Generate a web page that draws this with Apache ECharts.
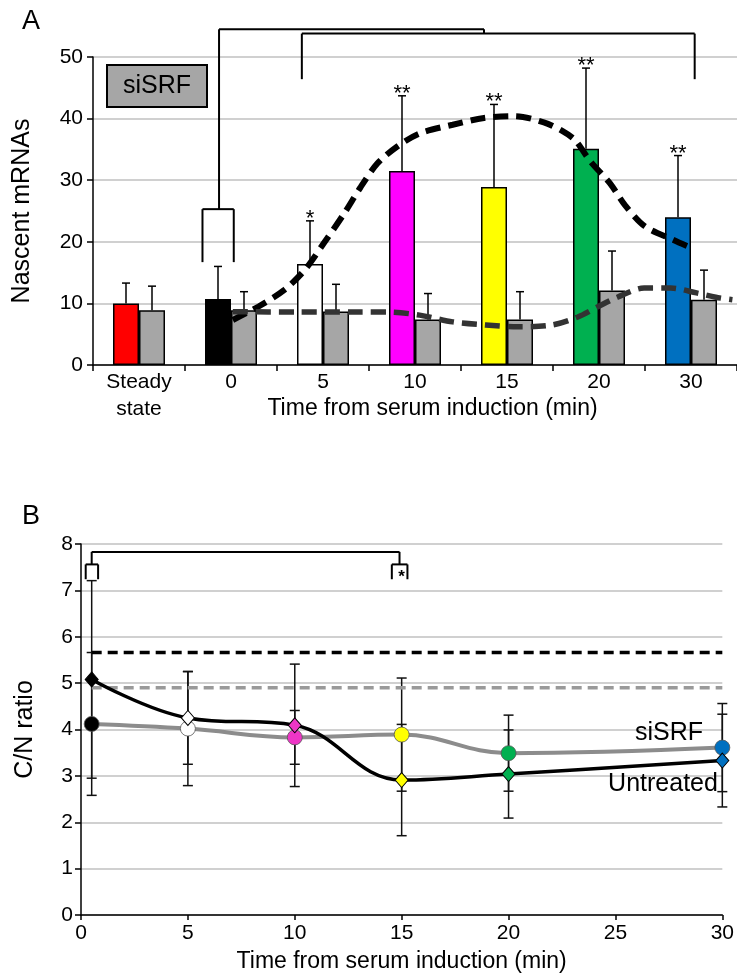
<!DOCTYPE html>
<html>
<head>
<meta charset="utf-8">
<script src="https://cdn.jsdelivr.net/npm/echarts@6/dist/echarts.min.js"></script>
<style>
  html, body { margin: 0; padding: 0; background: #fff; }
  #chart { width: 737px; height: 979px; }
</style>
</head>
<body>
<div id="chart"></div>
<script>
  const FONT = '"Liberation Sans", Arial, Helvetica, sans-serif';

  // ---- panel A: nascent mRNAs ----
  const timeCategories = ['Steady\nstate', '0', '5', '10', '15', '20', '30'];
  const untreatedMRNA = [10.0, 10.7, 16.4, 31.5, 28.9, 35.1, 24.0];
  const untreatedMRNAErrTop = [13.3, 16.0, 23.4, 43.7, 42.3, 48.2, 34.0];
  const siSRFMRNA = [8.9, 8.9, 8.7, 7.4, 7.4, 12.1, 10.6];
  const siSRFMRNAErrTop = [12.8, 11.9, 13.1, 11.6, 11.9, 18.5, 15.4];
  const timeColors = ['#ff0000', '#000000', '#ffffff', '#ff00ff', '#ffff00', '#00b050', '#0070c0'];
  const starsA = ['', '', '*', '**', '**', '**', '**'];

  // trend curves, x on a 0..7 scale (category i spans i..i+1)
  const untreatedTrendX = [1.52, 1.80, 2.08, 2.30, 2.51, 2.73, 2.91, 3.09, 3.30, 3.55, 3.91, 4.25, 4.58, 4.90, 5.10, 5.24, 5.41, 5.62, 5.78, 6.00, 6.31, 6.49];
  const untreatedTrendY = [7.3, 9.5, 12.2, 15.4, 19.8, 24.6, 28.9, 32.7, 35.4, 37.6, 39.0, 40.1, 40.4, 39.4, 38.0, 36.5, 33.0, 29.5, 26.0, 22.5, 20.3, 19.1];
  const siSRFTrendX = [1.52, 2.2, 2.9, 3.2, 3.55, 3.91, 4.27, 4.62, 4.99, 5.27, 5.48, 5.70, 5.99, 6.28, 6.56, 6.77, 6.95];
  const siSRFTrendY = [8.65, 8.6, 8.6, 8.6, 8.1, 7.0, 6.5, 6.2, 6.5, 7.8, 9.4, 11.0, 12.5, 12.5, 11.7, 11.0, 10.6];

  // significance brackets [x1, y1, x2, y2]
  const bracketA = [
    [1.19, 16.7, 1.19, 25.3], [1.19, 25.3, 1.53, 25.3], [1.53, 25.3, 1.53, 16.7],
    [1.37, 25.3, 1.37, 54.5], [1.37, 54.5, 4.25, 54.5], [4.25, 54.5, 4.25, 53.8],
    [2.27, 46.4, 2.27, 53.8], [2.27, 53.8, 6.54, 53.8], [6.54, 53.8, 6.54, 46.4]
  ];

  // ---- panel B: C/N ratio ----
  const timesB = [0.5, 5, 10, 15, 20, 30];
  const untreatedRatio = [5.08, 4.25, 4.09, 2.91, 3.04, 3.33];
  const untreatedRatioErr = [2.13, 1.0, 1.32, 1.2, 0.95, 1.0];
  const siSRFRatio = [4.12, 4.02, 3.83, 3.89, 3.49, 3.61];
  const siSRFRatioErr = [1.54, 1.23, 0.58, 1.22, 0.82, 0.95];
  const pointColors = ['#000000', '#ffffff', '#ee36c6', '#ffff00', '#00b050', '#0070c0'];
  const untreatedSteady = 5.66;
  const siSRFSteady = 4.9;
  const bracketB = [
    [0.22, 7.24, 0.22, 7.56], [0.22, 7.56, 0.8, 7.56], [0.8, 7.56, 0.8, 7.24],
    [0.5, 7.56, 0.5, 7.83], [0.5, 7.83, 14.9, 7.83], [14.9, 7.83, 14.9, 7.56],
    [14.54, 7.24, 14.54, 7.56], [14.54, 7.56, 15.27, 7.56], [15.27, 7.56, 15.27, 7.24]
  ];

  const BAR_W = 26;
  const chart = echarts.init(document.getElementById('chart'));

  // upper error bars for the grouped bars (side -1 = left bar, +1 = right bar)
  function barErrors(values, tops, side, stars) {
    return {
      type: 'custom',
      xAxisIndex: 0,
      yAxisIndex: 0,
      z: 4,
      silent: true,
      data: values.map((v, i) => [i, v, tops[i]]),
      renderItem: function (params, api) {
        const base = api.coord([api.value(0), api.value(1)]);
        const top = api.coord([api.value(0), api.value(2)]);
        const x = base[0] + side * BAR_W / 2;
        const children = [
          {type: 'line', shape: {x1: x, y1: base[1], x2: x, y2: top[1]}, style: {stroke: '#000', lineWidth: 1.5}},
          {type: 'line', shape: {x1: x - 4, y1: top[1], x2: x + 4, y2: top[1]}, style: {stroke: '#000', lineWidth: 1.5}}
        ];
        const s = stars ? stars[params.dataIndex] : '';
        if (s) {
          children.push({type: 'text', x: x, y: top[1] - 2,
            style: {text: s, fill: '#000', font: '22px ' + FONT, align: 'center', verticalAlign: 'middle'}});
        }
        return {type: 'group', children: children};
      }
    };
  }

  function segments(list, xi, yi) {
    return {
      type: 'custom',
      xAxisIndex: xi,
      yAxisIndex: yi,
      z: 6,
      clip: false,
      silent: true,
      data: list,
      renderItem: function (params, api) {
        const p1 = api.coord([api.value(0), api.value(1)]);
        const p2 = api.coord([api.value(2), api.value(3)]);
        return {type: 'line', shape: {x1: p1[0], y1: p1[1], x2: p2[0], y2: p2[1]},
          style: {stroke: '#000', lineWidth: 2}};
      }
    };
  }

  function ratioErrors(values, errs) {
    return {
      type: 'custom',
      xAxisIndex: 2,
      yAxisIndex: 1,
      z: 1,
      silent: true,
      data: values.map((v, i) => [timesB[i], v - errs[i], v + errs[i]]),
      renderItem: function (params, api) {
        const lo = api.coord([api.value(0), api.value(1)]);
        const hi = api.coord([api.value(0), api.value(2)]);
        const x = lo[0];
        const st = {stroke: '#111', lineWidth: 1.5};
        return {type: 'group', children: [
          {type: 'line', shape: {x1: x, y1: lo[1], x2: x, y2: hi[1]}, style: st},
          {type: 'line', shape: {x1: x - 5, y1: lo[1], x2: x + 5, y2: lo[1]}, style: st},
          {type: 'line', shape: {x1: x - 5, y1: hi[1], x2: x + 5, y2: hi[1]}, style: st}
        ]};
      }
    };
  }

  const axisLine = {lineStyle: {color: '#000', width: 1.5}};
  const axisTick = {show: true, length: 6, lineStyle: {color: '#000', width: 1.5}};
  const splitLine = {show: true, lineStyle: {color: '#c0c0c0', width: 1.5}};

  chart.setOption({
    animation: false,
    textStyle: {fontFamily: FONT},
    grid: [
      {left: 93, top: 57, width: 651, height: 308},
      {left: 81, top: 544, width: 648, height: 371}
    ],
    xAxis: [{
      type: 'category',
      gridIndex: 0,
      data: timeCategories,
      axisLine: axisLine,
      axisTick: axisTick,
      axisLabel: {color: '#000', fontSize: 21, fontFamily: FONT, margin: 4, lineHeight: 27, interval: 0},
      splitLine: {show: false},
      name: 'Time from serum induction (min)',
      nameLocation: 'middle',
      nameGap: 32,
      nameMoveOverlap: false,
      nameTextStyle: {color: '#000', fontSize: 23, fontFamily: FONT, padding: [0, 0, 0, 35]}
    }, {
      type: 'value',
      gridIndex: 0,
      min: 0,
      max: 7,
      show: false
    }, {
      type: 'value',
      gridIndex: 1,
      min: 0,
      max: 30,
      interval: 5,
      axisLine: axisLine,
      axisTick: {show: true, length: 5, lineStyle: {color: '#000', width: 1.5}},
      axisLabel: {color: '#000', fontSize: 21, fontFamily: FONT, margin: 8},
      splitLine: {show: false},
      name: 'Time from serum induction (min)',
      nameLocation: 'middle',
      nameGap: 35,
      nameMoveOverlap: false,
      nameTextStyle: {color: '#000', fontSize: 23, fontFamily: FONT}
    }],
    yAxis: [{
      type: 'value',
      gridIndex: 0,
      min: 0,
      max: 50,
      interval: 10,
      axisLine: {show: true, lineStyle: {color: '#000', width: 1.5}},
      axisTick: axisTick,
      axisLabel: {color: '#000', fontSize: 21, fontFamily: FONT, margin: 10},
      splitLine: splitLine,
      name: 'Nascent mRNAs',
      nameLocation: 'middle',
      nameGap: 58,
      nameTextStyle: {color: '#000', fontSize: 25, fontFamily: FONT}
    }, {
      type: 'value',
      gridIndex: 1,
      min: 0,
      max: 8,
      interval: 1,
      axisLine: {show: true, lineStyle: {color: '#000', width: 1.5}},
      axisTick: axisTick,
      axisLabel: {color: '#000', fontSize: 21, fontFamily: FONT, margin: 8},
      splitLine: splitLine,
      name: 'C/N ratio',
      nameLocation: 'middle',
      nameGap: 43,
      nameTextStyle: {color: '#000', fontSize: 25, fontFamily: FONT}
    }],
    series: [
      {
        name: 'Untreated',
        type: 'bar',
        xAxisIndex: 0,
        yAxisIndex: 0,
        barWidth: BAR_W,
        barGap: '0%',
        z: 2,
        data: untreatedMRNA.map((v, i) => ({value: v, itemStyle: {color: timeColors[i]}})),
        itemStyle: {borderColor: '#000', borderWidth: 1.5}
      },
      {
        name: 'siSRF',
        type: 'bar',
        xAxisIndex: 0,
        yAxisIndex: 0,
        barWidth: BAR_W,
        barGap: '0%',
        z: 2,
        data: siSRFMRNA,
        itemStyle: {color: '#a6a6a6', borderColor: '#000', borderWidth: 1.5}
      },
      barErrors(untreatedMRNA, untreatedMRNAErrTop, -1, starsA),
      barErrors(siSRFMRNA, siSRFMRNAErrTop, 1, null),
      {
        type: 'line',
        xAxisIndex: 1,
        yAxisIndex: 0,
        z: 5,
        smooth: 0.3,
        showSymbol: false,
        silent: true,
        data: untreatedTrendX.map((x, i) => [x, untreatedTrendY[i]]),
        lineStyle: {color: '#000', width: 6, type: [15, 8]}
      },
      {
        type: 'line',
        xAxisIndex: 1,
        yAxisIndex: 0,
        z: 5,
        smooth: 0.3,
        showSymbol: false,
        silent: true,
        data: siSRFTrendX.map((x, i) => [x, siSRFTrendY[i]]),
        lineStyle: {color: '#333', width: 5.5, type: [15, 8]}
      },
      segments(bracketA, 1, 0),

      // panel B
      ratioErrors(untreatedRatio, untreatedRatioErr),
      ratioErrors(siSRFRatio, siSRFRatioErr),
      {
        type: 'line',
        xAxisIndex: 2,
        yAxisIndex: 1,
        z: 2,
        showSymbol: false,
        silent: true,
        data: [[timesB[0], untreatedSteady], [timesB[timesB.length - 1], untreatedSteady]],
        lineStyle: {color: '#000', width: 3.5, type: [10, 6]}
      },
      {
        type: 'line',
        xAxisIndex: 2,
        yAxisIndex: 1,
        z: 2,
        showSymbol: false,
        silent: true,
        data: [[timesB[0], siSRFSteady], [timesB[timesB.length - 1], siSRFSteady]],
        lineStyle: {color: '#999', width: 3.5, type: [10, 6]}
      },
      {
        name: 'siSRF ratio',
        type: 'line',
        xAxisIndex: 2,
        yAxisIndex: 1,
        z: 3,
        smooth: 0.4,
        symbol: 'circle',
        symbolSize: 15,
        data: timesB.map((t, i) => ({value: [t, siSRFRatio[i]], itemStyle: {color: pointColors[i]}})),
        itemStyle: {borderColor: '#555', borderWidth: 0.8},
        lineStyle: {color: '#8c8c8c', width: 4}
      },
      {
        name: 'Untreated ratio',
        type: 'line',
        xAxisIndex: 2,
        yAxisIndex: 1,
        z: 4,
        smooth: 0.4,
        symbol: 'diamond',
        symbolSize: [13, 15],
        data: timesB.map((t, i) => ({value: [t, untreatedRatio[i]], itemStyle: {color: pointColors[i]}})),
        itemStyle: {borderColor: '#000', borderWidth: 1},
        lineStyle: {color: '#000', width: 3.5}
      },
      segments(bracketB, 2, 1),
      {
        type: 'custom',
        xAxisIndex: 2,
        yAxisIndex: 1,
        z: 6,
        silent: true,
        data: [[15, 7.31]],
        renderItem: function (params, api) {
          const p = api.coord([api.value(0), api.value(1)]);
          return {type: 'text', x: p[0], y: p[1] + 1,
            style: {text: '*', fill: '#000', font: 'bold 17px ' + FONT, align: 'center', verticalAlign: 'middle'}};
        }
      }
    ],
    graphic: [
      {type: 'text', left: 22, top: 8, style: {text: 'A', font: '27px ' + FONT, fill: '#000'}},
      {type: 'text', left: 22, top: 503, style: {text: 'B', font: '27px ' + FONT, fill: '#000'}},
      {type: 'rect', shape: {x: 107, y: 65, width: 100, height: 42}, z: 10,
        style: {fill: '#a6a6a6', stroke: '#000', lineWidth: 2}},
      {type: 'text', x: 157, y: 86, z: 11,
        style: {text: 'siSRF', font: '25px ' + FONT, fill: '#000', align: 'center', verticalAlign: 'middle'}},
      {type: 'text', x: 669, y: 733, z: 11,
        style: {text: 'siSRF', font: '25px ' + FONT, fill: '#000', align: 'center', verticalAlign: 'middle'}},
      {type: 'text', x: 663, y: 784, z: 11,
        style: {text: 'Untreated', font: '25px ' + FONT, fill: '#000', align: 'center', verticalAlign: 'middle'}}
    ]
  });
</script>
</body>
</html>
